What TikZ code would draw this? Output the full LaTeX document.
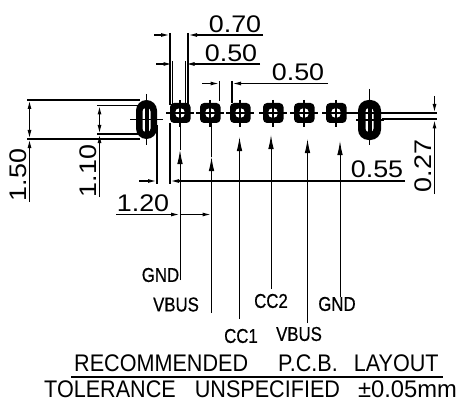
\documentclass[tikz,border=0pt]{standalone}
\usepackage{fontspec}
\newfontfamily\dimfont[FakeStretch=1.12]{Liberation Sans}
\newfontfamily\titlefont[FakeStretch=0.9]{Liberation Sans}
\newfontfamily\tolfont[FakeStretch=0.99]{Liberation Sans}
\newfontfamily\pinfont[FakeStretch=0.84,FakeBold=0.6]{Liberation Sans}
\usetikzlibrary{arrows.meta}

\begin{document}
\begin{tikzpicture}[%
x=1pt,y=-1pt,
dimline/.style={color=black,line width=1.4pt},
heavyline/.style={color=black,line width=2pt},
thinline/.style={color=black,line width=0.9pt},
dimarrow/.style={dimline,-{Latex[length=9pt,width=4pt]}},
leader/.style={thinline,-{Latex[length=14pt,width=5.5pt]}},
padbody/.style={fill=black,rounded corners=4pt},
slotbody/.style={fill=black,rounded corners=10.5pt},
crossline/.style={color=black,line width=1.2pt},
dimtext/.style={inner sep=0pt,font=\dimfont\fontsize{24}{24}\selectfont},
titletext/.style={inner sep=0pt,font=\titlefont\fontsize{24}{24}\selectfont},
pintext/.style={inner sep=0pt,font=\pinfont\fontsize{20}{20}\selectfont},
]
\useasboundingbox (0,0) rectangle (462,414);
%% left slot;
\fill [slotbody] (136,100) rectangle (157,139);
\fill [white,rounded corners=3.5pt] (142.5,108) rectangle (150.5,132);
\draw [color=black,line width=4pt] (146.5,106) -- (146.5,134);
\draw [crossline] (130,119.5) -- (163,119.5);
\draw [crossline] (146.5,94) -- (146.5,145);
%% pad;
\fill [padbody] (170,103) rectangle (190.5,123);
\fill [white] (180,113) circle (5pt);
\draw [crossline] (166,113) -- (194,113);
\draw [crossline] (180,100) -- (180,127);
%% pad;
\fill [padbody] (200,103) rectangle (220.5,123);
\fill [white] (210,113) circle (5pt);
\draw [crossline] (196,113) -- (224,113);
\draw [crossline] (210,100) -- (210,127);
%% pad;
\fill [padbody] (230,103) rectangle (250.5,123);
\fill [white] (240,113) circle (5pt);
\draw [crossline] (226,113) -- (254,113);
\draw [crossline] (240,100) -- (240,127);
%% pad;
\fill [padbody] (263,103) rectangle (283.5,123);
\fill [white] (273,113) circle (5pt);
\draw [crossline] (259,113) -- (287,113);
\draw [crossline] (273,100) -- (273,127);
%% pad;
\fill [padbody] (294,103) rectangle (314.5,123);
\fill [white] (304,113) circle (5pt);
\draw [crossline] (290,113) -- (318,113);
\draw [crossline] (304,100) -- (304,127);
%% pad;
\fill [padbody] (326,103) rectangle (346.5,123);
\fill [white] (336,113) circle (5pt);
\draw [crossline] (322,113) -- (350,113);
\draw [crossline] (336,100) -- (336,127);
%% right slot;
\fill [slotbody] (358,100) rectangle (381,140);
\fill [white,rounded corners=3.5pt] (365.5,108) rectangle (373.5,132);
\draw [color=black,line width=4pt] (369.5,106) -- (369.5,134);
\draw [crossline] (356,120) -- (384,120);
\draw [crossline] (369.5,89) -- (369.5,145);
%% dimension 0.70;
\draw [dimline] (170,33) -- (170,105);
\draw [dimline] (188,33) -- (188,105);
\draw [dimarrow] (154,35) -- (170,35);
\draw [dimarrow] (263,35) -- (188,35);
\node [dimtext] (dimA) at (235,24) {0.70};
%% dimension 0.50;
\draw [dimline] (172.5,61) -- (172.5,105);
\draw [dimline] (185.5,61) -- (185.5,105);
\draw [dimarrow] (156,64) -- (172.5,64);
\draw [dimarrow] (260,64) -- (185.5,64);
\node [dimtext] (dimB) at (231,53) {0.50};
%% dimension 0.50;
\draw [dimline] (219.5,81) -- (219.5,101);
\draw [dimline] (232,81) -- (232,103);
\draw [dimarrow] (202,83.5) -- (219.5,83.5);
\draw [dimarrow] (328,83.5) -- (232,83.5);
\node [dimtext] (dimC) at (298,72) {0.50};
%% dimension 1.50;
\draw [dimline] (27,100) -- (140,100);
\draw [heavyline] (27,139) -- (140,139);
\draw [dimarrow] (29.5,118) -- (29.5,100);
\draw [dimarrow] (29.5,202) -- (29.5,139);
\draw [dimarrow] (29.5,118) -- (29.5,139);
\node [dimtext,rotate=90] (dimD) at (18,175) {1.50};
%% dimension 1.10;
\draw [dimline] (97,105.5) -- (140,105.5);
\draw [dimline] (97,134) -- (140,134);
\draw [dimarrow] (99.5,120) -- (99.5,105.5);
\draw [dimarrow] (99.5,197) -- (99.5,134);
\draw [dimarrow] (99.5,120) -- (99.5,134);
\node [dimtext,rotate=90] (dimE) at (88,171) {1.10};
%% dimension 0.55;
\draw [dimline] (157,125) -- (157,184);
\draw [dimline] (170,123) -- (170,184);
\draw [dimarrow] (139,181) -- (157,181);
\draw [dimarrow] (405,181) -- (170,181);
\node [dimtext] (dimF) at (377,169.5) {0.55};
%% dimension 1.20;
\draw [dimarrow] (116,214.5) -- (180,214.5);
\draw [dimarrow] (180,214.5) -- (211.5,214.5);
\node [dimtext] (dimG) at (143,203.5) {1.20};
%% dimension 0.27;
\draw [dimline] (347,113) -- (437,113);
\draw [heavyline] (382,119.5) -- (437,119.5);
\draw [dimarrow] (434.5,96) -- (434.5,113);
\draw [dimarrow] (434.5,194) -- (434.5,119.5);
\node [dimtext,rotate=90] (dimH) at (423,166) {0.27};
%% pin leaders;
\draw [thinline] (180,123) -- (180,150);
\draw [leader] (180,280) -- (180,150);
\draw [thinline] (211.5,123) -- (211.5,157);
\draw [leader] (211.5,313) -- (211.5,157);
\draw [leader] (239.5,319) -- (239.5,137);
\draw [leader] (271,289) -- (271,135);
\draw [leader] (307.5,323) -- (307.5,139);
\draw [leader] (340,297) -- (340,141);
%% labels;
\node [pintext] (pinA) at (160.5,275) {GND};
\node [pintext] (pinB) at (176,304.5) {VBUS};
\node [pintext] (pinC) at (241,336) {CC1};
\node [pintext] (pinD) at (271,301) {CC2};
\node [pintext] (pinE) at (299,334) {VBUS};
\node [pintext] (pinF) at (337,304) {GND};
%% title;
\node [titletext,anchor=west] (titleA) at (74,363.5) {RECOMMENDED\hspace{30pt}P.C.B.\hspace{16pt}LAYOUT};
\draw [dimline] (71,377) -- (443,377);
\node [titletext,anchor=west] (titleB) at (44,389) {TOLERANCE\hspace{19pt}UNSPECIFIED\hspace{18pt}{\tolfont ±0.05mm}};
\end{tikzpicture}
\end{document}
